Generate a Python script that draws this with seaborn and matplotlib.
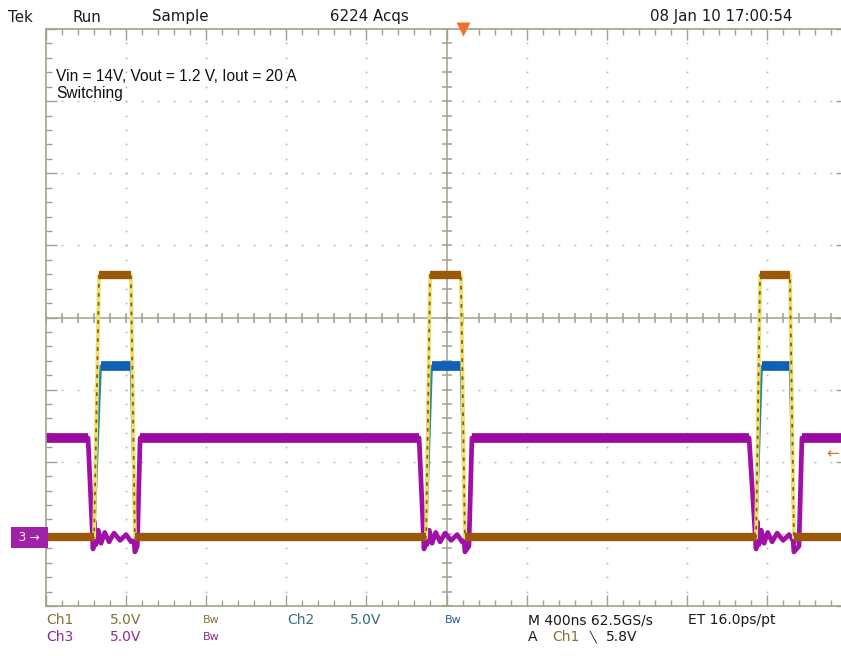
import numpy as np
import pandas as pd
import matplotlib
matplotlib.use("Agg")
import matplotlib.pyplot as plt
import seaborn as sns

# --- data (time in ns, volts) ---
volts_per_div = 5.0
ground_div = -3.05          # all three channel grounds sit at the same marker

ch1_rise_start = [240, 1898, 3546]
ch1_rise_end = [265, 1918, 3566]
ch1_fall_start = [424, 2072, 3715]
ch1_fall_end = [444, 2092, 3735]
ch1_high = 18.2
ch2_high = 11.9

ch3_fall_start = [210, 1863, 3511]
ch3_fall_end = [235, 1888, 3546]
ch3_rise_start = [456, 2112, 3760]
ch3_rise_end = [470, 2127, 3775]
ch3_high = 6.9
ch3_ring_dt = [0, 6, 14, 26, 40, 58, 80, 105, 135, 165, 190]
ch3_ring_v = [-0.8, 1.1, -0.5, 0.5, -0.4, 0.35, -0.3, 0.3, -0.2, 0.2, -0.3]
ch3_dip = -1.0

trig_time = 2080
trig_level = 5.8

t_end = 4000


def to_div(v):
    return np.asarray(v) / volts_per_div + ground_div


# build the traces from the edge times
t1, v1 = [0], [0.0]
for rs, re, fs, fe in zip(ch1_rise_start, ch1_rise_end, ch1_fall_start, ch1_fall_end):
    t1 += [rs, re, fs, fe]
    v1 += [0.0, ch1_high, ch1_high, 0.0]
t1.append(t_end)
v1.append(0.0)
ch1 = pd.DataFrame({"t": t1, "y": to_div(v1)})

seg_t, seg_v, seg_u = [], [], []
starts = [0] + ch1_fall_end
ends = ch1_rise_start + [t_end]
for i, (a, b) in enumerate(zip(starts, ends)):
    seg_t += [a, b]
    seg_v += [0.0, 0.0]
    seg_u += [i, i]
for j, (a, b) in enumerate(zip(ch1_rise_end, ch1_fall_start)):
    seg_t += [a, b]
    seg_v += [ch1_high, ch1_high]
    seg_u += [10 + j, 10 + j]
ch1_flat = pd.DataFrame({"t": seg_t, "y": to_div(seg_v), "u": seg_u})

t2, v2, u2 = [], [], []
for j, (rs, re, fs, fe) in enumerate(zip(ch1_rise_start, ch1_rise_end, ch1_fall_start, ch1_fall_end)):
    t2 += [rs, re + 8, fs, fe]
    v2 += [0.0, ch2_high, ch2_high, 0.0]
    u2 += [j] * 4
ch2 = pd.DataFrame({"t": t2, "y": to_div(v2), "u": u2})
ch2_flat = pd.DataFrame({"t": sum([[a + 8, b] for a, b in zip(ch1_rise_end, ch1_fall_start)], []),
                         "y": to_div([ch2_high] * 6),
                         "u": [0, 0, 1, 1, 2, 2]})

t3, v3 = [0], [ch3_high]
for fs, fe, rs, re, dip_t in zip(ch3_fall_start, ch3_fall_end, ch3_rise_start, ch3_rise_end, ch1_fall_end):
    t3 += [fs]
    v3 += [ch3_high]
    t3 += [fe + d for d in ch3_ring_dt]
    v3 += ch3_ring_v
    t3 += [dip_t - 4, dip_t, rs, re]
    v3 += [-0.2, ch3_dip, -0.6, ch3_high]
t3.append(t_end)
v3.append(ch3_high)
ch3 = pd.DataFrame({"t": t3, "y": to_div(v3)})
ch3_flat = pd.DataFrame({"t": [0] + sum([[a, b] for a, b in zip(ch3_rise_end, ch3_fall_start[1:] + [t_end])], []) + [ch3_fall_start[0]],
                         "y": to_div([ch3_high] * 8),
                         "u": [0, 1, 1, 2, 2, 3, 3, 0]})
ch3_flat = ch3_flat.sort_values(["u", "t"])

# --- figure ---
sns.set_theme(style="white")
plt.rcParams["font.family"] = ["DejaVu Sans"]

W, H = 841, 656
fig = plt.figure(figsize=(W / 100, H / 100), dpi=100)
ax = fig.add_axes([46 / W, 50 / H, 801 / W, 577 / H])
ax.set_xlim(0, t_end)
ax.set_ylim(-4, 4)

frame = "#a29f8a"
for s in ax.spines.values():
    s.set_color(frame)
    s.set_linewidth(1.2)
ax.set_xticks(np.arange(0, t_end + 1, 400))
ax.set_xticks(np.arange(0, t_end + 1, 80), minor=True)
ax.set_yticks(np.arange(-4, 5, 1))
ax.set_yticks(np.arange(-4, 4.01, 0.2), minor=True)
ax.tick_params(which="both", direction="in", top=True, bottom=True, left=True, right=True,
               color=frame, labelbottom=False, labelleft=False, width=1)
ax.tick_params(which="major", length=8)
ax.tick_params(which="minor", length=4)

# dotted graticule
dot = "#b8b8b8"
for k in range(1, 10):
    if k == 5:
        continue
    yy = np.arange(-4, 4.01, 0.2)
    ax.plot(np.full_like(yy, k * 400), yy, ls="none", marker="s", ms=1.2, color=dot, mec="none")
for j in range(-3, 4):
    if j == 0:
        continue
    xx = np.arange(0, t_end + 1, 80)
    ax.plot(xx, np.full_like(xx, j, dtype=float), ls="none", marker="s", ms=1.2, color=dot, mec="none")

# centre cross with ticks
ax.axhline(0, color=frame, lw=1.1)
ax.axvline(2000, color=frame, lw=1.1)
xm = np.arange(0, t_end + 1, 80)
ax.plot(xm, np.zeros_like(xm), ls="none", marker="|", ms=7, mew=1.1, color=frame)
ym = np.arange(-4, 4.01, 0.2)
ax.plot(np.full_like(ym, 2000), ym, ls="none", marker="_", ms=7, mew=1.1, color=frame)

# traces
flat = dict(sort=False, estimator=None, solid_capstyle="butt", ax=ax)
sns.lineplot(data=ch3, x="t", y="y", sort=False, estimator=None, color="#a010a8", lw=3.4, ax=ax)
sns.lineplot(data=ch3_flat, x="t", y="y", units="u", color="#9a0aa0", lw=7, **flat)
sns.lineplot(data=ch2, x="t", y="y", units="u", sort=False, estimator=None, color="#2a8a90", lw=1.8, ax=ax)
sns.lineplot(data=ch2_flat, x="t", y="y", units="u", color="#1060b8", lw=7, **flat)
sns.lineplot(data=ch1, x="t", y="y", sort=False, estimator=None, color="#ece070", lw=2.8, ax=ax)
sns.lineplot(data=ch1, x="t", y="y", sort=False, estimator=None, color="#8a5a10", lw=1.3,
             dashes=(2, 3), ax=ax)
sns.lineplot(data=ch1_flat, x="t", y="y", units="u", color="#9a5808", lw=6, **flat)
ax.set_xlabel("")
ax.set_ylabel("")

# markers
ax.plot([trig_time], [4], marker="v", ms=10, color="#f07030", mec="none", clip_on=False, zorder=5)
ax.text(3895, to_div(trig_level), "\u2190", color="#d07020", fontsize=11, va="center", ha="left")
ax.text(-0.003, ground_div, " 3 \u2192 ", transform=ax.get_yaxis_transform(), ha="right", va="center",
        color="white", fontsize=8.5,
        bbox=dict(boxstyle="square,pad=0.35", fc="#a020a8", ec="none"))

note_font = dict(fontsize=11.2, family="Liberation Sans", va="center", color="#111111",
                 transform=ax.transAxes)
ax.text(0.013, (606 - 76) / 577, "Vin = 14V, Vout = 1.2 V, Iout = 20 A", **note_font)
ax.text(0.013, (606 - 93) / 577, "Switching", **note_font)


def ftext(x, y, s, color="#1a1a1a", size=10):
    fig.text(x / W, 1 - y / H, s, color=color, fontsize=size, va="center", ha="left")


ftext(8, 17, "Tek", size=10.8)
ftext(72, 17, "Run", size=10.8)
ftext(152, 17, "Sample", size=10.8)
ftext(330, 17, "6224 Acqs", size=10.8)
ftext(650, 17, "08 Jan 10 17:00:54", size=10.8)

olive = "#85703a"
ftext(46, 620, "Ch1", olive)
ftext(110, 620, "5.0V", olive)
ftext(203, 620, "Bw", olive, 8)
ftext(287, 620, "Ch2", "#3c6c88")
ftext(350, 620, "5.0V", "#2f6c80")
ftext(445, 620, "Bw", "#2a5a98", 8)
ftext(528, 620, "M 400ns 62.5GS/s")
ftext(688, 620, "ET 16.0ps/pt")
ftext(46, 637, "Ch3", "#8a2a90")
ftext(110, 637, "5.0V", "#8a2a90")
ftext(203, 637, "Bw", "#8a2a90", 8)
ftext(528, 637, "A")
ftext(552, 637, "Ch1", olive)
ftext(589, 637, "\u2572", size=8)
ftext(606, 637, "5.8V")

fig.savefig("out.png", dpi=100)
